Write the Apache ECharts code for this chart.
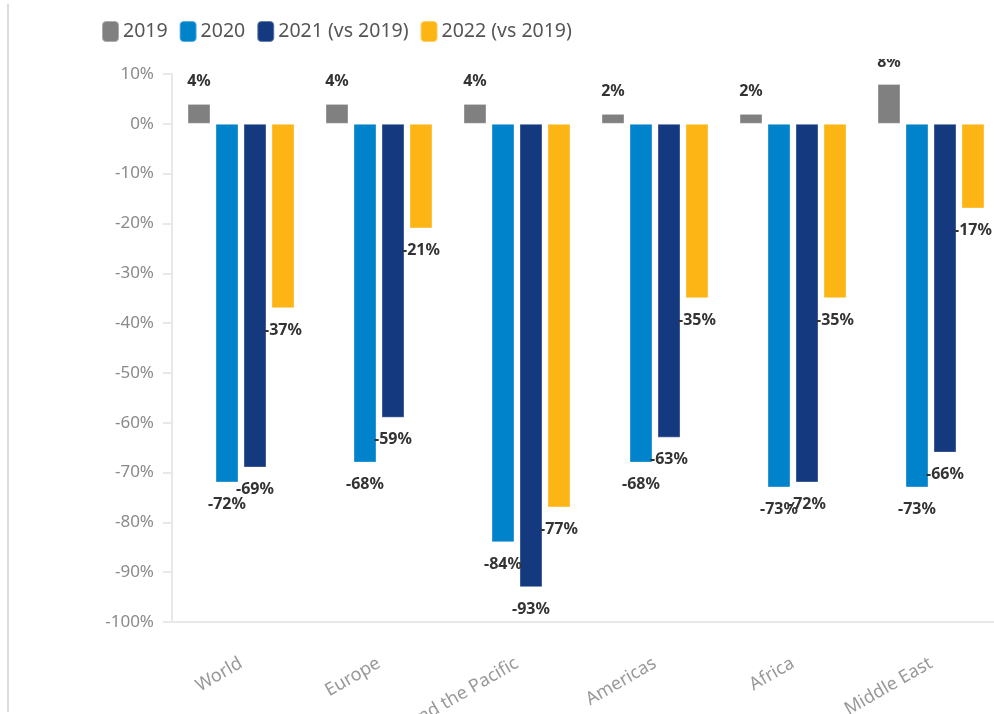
<!DOCTYPE html>
<html>
<head>
<meta charset="utf-8">
<script src="https://cdn.jsdelivr.net/npm/echarts@6/dist/echarts.min.js"></script>
<style>
html,body{margin:0;padding:0;background:#fff;}
#c{width:994px;height:714px;}
</style>
</head>
<body>
<div id="c"></div>
<script>
const categories = ["World", "Europe", "Asia and the Pacific", "Americas", "Africa", "Middle East"];
const seriesNames = ["2019", "2020", "2021 (vs 2019)", "2022 (vs 2019)"];
const v2019 = [4, 4, 4, 2, 2, 8];
const v2020 = [-72, -68, -84, -68, -73, -73];
const v2021 = [-69, -59, -93, -63, -72, -66];
const v2022 = [-37, -21, -77, -35, -35, -17];
const yTicks = { min: -100, max: 10, interval: 10 };

const colors = ["#808080", "#0083CA", "#15397F", "#FDB515"];
const values = [v2019, v2020, v2021, v2022];

const chart = echarts.init(document.getElementById('c'), null, { renderer: 'canvas' });

const series = seriesNames.map((name, i) => ({
  name: name,
  type: 'bar',
  barWidth: 23,
  barGap: '21.7%',
  itemStyle: { color: colors[i], borderColor: 'rgba(255,255,255,0.35)', borderWidth: 1 },
  label: {
    show: true,
    formatter: p => p.value + '%',
    fontFamily: 'Noto Sans',
    fontWeight: 'bold',
    fontSize: 16,
    color: '#333',
    distance: 14
  },
  data: values[i].map(v => ({ value: v, label: { position: v < 0 ? 'bottom' : 'top' } }))
}));

chart.setOption({
  animation: false,
  backgroundColor: '#fff',
  color: colors,
  textStyle: { fontFamily: 'Noto Sans' },
  legend: {
    left: 96,
    top: 15,
    z: 200,
    itemWidth: 17,
    itemHeight: 21,
    itemGap: 11,
    icon: 'roundRect',
    textStyle: { fontFamily: 'Noto Sans', fontSize: 19.5, color: '#555', padding: [0, 0, 0, -1] },
    data: seriesNames
  },
  grid: { left: 172, top: 74, bottom: 92, right: -6, outerBoundsMode: 'none', containLabel: false },
  xAxis: {
    type: 'category',
    data: categories,
    axisLine: { onZero: false, lineStyle: { color: '#e8e8e8', width: 2 } },
    axisTick: { alignWithLabel: true, length: 10, lineStyle: { color: '#e8e8e8', width: 2 } },
    axisLabel: { rotate: 30, margin: 40, fontSize: 18, color: '#999', fontFamily: 'Noto Sans', interval: 0, hideOverlap: false }
  },
  yAxis: {
    type: 'value',
    min: yTicks.min,
    max: yTicks.max,
    interval: yTicks.interval,
    splitLine: { show: false },
    axisLine: { show: true, lineStyle: { color: '#e8e8e8', width: 2 } },
    axisTick: { show: true, length: 9, lineStyle: { color: '#e8e8e8', width: 2 } },
    axisLabel: { formatter: '{value}%', fontSize: 17, color: '#8a8a8a', margin: 18, fontFamily: 'Noto Sans' }
  },
  graphic: [{
    type: 'line',
    shape: { x1: 8, y1: 4, x2: 8, y2: 712 },
    style: { stroke: '#cfcfcf', lineWidth: 1.5 }
  }, {
    type: 'rect',
    z: 150,
    shape: { x: 840, y: 0, width: 154, height: 59 },
    style: { fill: '#fff' }
  }],
  series: series
});
</script>
</body>
</html>
